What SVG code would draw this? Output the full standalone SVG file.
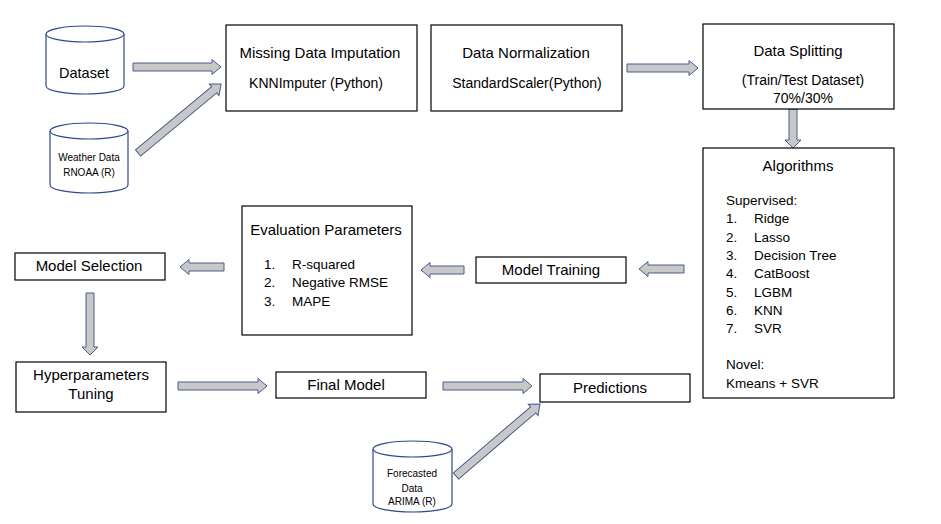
<svg xmlns="http://www.w3.org/2000/svg" width="941" height="524" viewBox="0 0 941 524">
<style>
.box{fill:#fff;stroke:#000;stroke-width:1.2}
.cyl{fill:#fff;stroke:#2F4A8A;stroke-width:1.2}
.arr{fill:#C8C8C8;stroke:#4A5A8F;stroke-width:1}
text{font-family:"Liberation Sans",Arial,sans-serif;font-size:13.5px;fill:#000}
.c{text-anchor:middle}
.t{font-size:15px}
.m{font-size:14px}
.s{font-size:10px}
</style>
<rect width="941" height="524" fill="#fff"/>
<g id="connectors">
<polygon class="arr" points="133,63 212,63 212,59.5 221,67 212,74.5 212,71 133,71"/>
<polygon class="arr" transform="translate(138,153) rotate(-39.7)" points="0,-4 99,-4 99,-7.5 108,0 99,7.5 99,4 0,4"/>
<polygon class="arr" points="627,64 689,64 689,60.5 698,68 689,75.5 689,72 627,72"/>
<polygon class="arr" points="789,109 797,109 797,140 801,140 793,148 785,140 789,140"/>
<polygon class="arr" points="684,265 648,265 648,261.5 639,269 648,276.5 648,273 684,273"/>
<polygon class="arr" points="464,266 430,266 430,262.5 421,270 430,277.5 430,274 464,274"/>
<polygon class="arr" points="224,263 189,263 189,259.5 180,267 189,274.5 189,271 224,271"/>
<polygon class="arr" points="86,293 94,293 94,347 98,347 90,355 82,347 86,347"/>
<polygon class="arr" points="178,382 258,382 258,378.5 267,386 258,393.5 258,390 178,390"/>
<polygon class="arr" points="443,382 523,382 523,378.5 532,386 523,393.5 523,390 443,390"/>
<polygon class="arr" transform="translate(456,476) rotate(-40.6)" points="0,-4 101.6,-4 101.6,-7.5 110.6,0 101.6,7.5 101.6,4 0,4"/>
</g>
<g id="dataset">
<path class="cyl" d="M46,34 A39,8 0 0 1 124,34 V86 A39,8 0 0 1 46,86 Z"/>
<path class="cyl" d="M46,34 A39,8 0 0 0 124,34" fill="none"/>
<text class="c" x="84" y="78" style="font-size:14.5px">Dataset</text>
</g>
<g id="weather">
<path class="cyl" d="M50,131 A39,8 0 0 1 128,131 V185 A39,8 0 0 1 50,185 Z"/>
<path class="cyl" d="M50,131 A39,8 0 0 0 128,131" fill="none"/>
<text class="c s" x="89" y="161">Weather Data</text>
<text class="c s" x="89" y="176">RNOAA (R)</text>
</g>
<g id="missing">
<rect class="box" x="226" y="25" width="191" height="86"/>
<text class="c t" x="320" y="58">Missing Data Imputation</text>
<text class="c m" x="316" y="88">KNNImputer (Python)</text>
</g>
<g id="normalization">
<rect class="box" x="431" y="25" width="191" height="86"/>
<text class="c t" x="526" y="58">Data Normalization</text>
<text class="c m" x="527" y="88">StandardScaler(Python)</text>
</g>
<g id="splitting">
<rect class="box" x="703" y="24" width="191" height="85"/>
<text class="c t" x="798" y="56">Data Splitting</text>
<text class="c m" x="803" y="85">(Train/Test Dataset)</text>
<text class="c m" x="803" y="103">70%/30%</text>
</g>
<g id="algorithms">
<rect class="box" x="703" y="148" width="191" height="250"/>
<text class="c t" x="798" y="171">Algorithms</text>
<text x="726" y="205">Supervised:</text>
<text x="726" y="223">1.</text><text x="754" y="223">Ridge</text>
<text x="726" y="242">2.</text><text x="754" y="242">Lasso</text>
<text x="726" y="260">3.</text><text x="754" y="260">Decision Tree</text>
<text x="726" y="278">4.</text><text x="754" y="278">CatBoost</text>
<text x="726" y="297">5.</text><text x="754" y="297">LGBM</text>
<text x="726" y="315">6.</text><text x="754" y="315">KNN</text>
<text x="726" y="333">7.</text><text x="754" y="333">SVR</text>
<text x="726" y="369">Novel:</text>
<text x="726" y="388">Kmeans + SVR</text>
</g>
<g id="training">
<rect class="box" x="476" y="257" width="150" height="26"/>
<text class="c t" x="551" y="275">Model Training</text>
</g>
<g id="evaluation">
<rect class="box" x="242" y="206" width="170" height="129"/>
<text class="c t" x="326" y="235">Evaluation Parameters</text>
<text x="264" y="269">1.</text><text x="292" y="269">R-squared</text>
<text x="264" y="287">2.</text><text x="292" y="287">Negative RMSE</text>
<text x="264" y="306">3.</text><text x="292" y="306">MAPE</text>
</g>
<g id="selection">
<rect class="box" x="15" y="253" width="150" height="27"/>
<text class="c t" x="89" y="271">Model Selection</text>
</g>
<g id="tuning">
<rect class="box" x="16" y="362" width="150" height="50"/>
<text class="c t" x="91" y="380">Hyperparameters</text>
<text class="c t" x="91" y="399">Tuning</text>
</g>
<g id="final">
<rect class="box" x="276" y="372" width="150" height="26"/>
<text class="c t" x="346" y="390">Final Model</text>
</g>
<g id="predictions">
<rect class="box" x="540" y="374" width="150" height="28"/>
<text class="c t" x="610" y="393">Predictions</text>
</g>
<g id="forecast">
<path class="cyl" d="M373,449 A39.5,8 0 0 1 452,449 V504 A39.5,8 0 0 1 373,504 Z"/>
<path class="cyl" d="M373,449 A39.5,8 0 0 0 452,449" fill="none"/>
<text class="c s" x="412" y="477">Forecasted</text>
<text class="c s" x="412" y="492">Data</text>
<text class="c s" x="412" y="505">ARIMA (R)</text>
</g>
</svg>
